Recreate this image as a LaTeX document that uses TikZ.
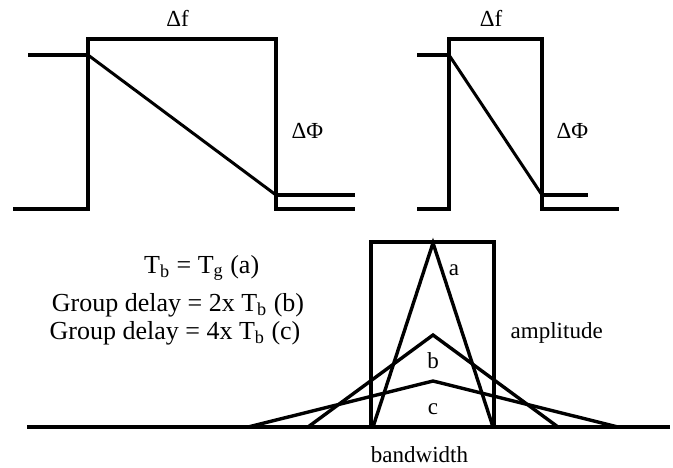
\documentclass[tikz,border=0pt]{standalone}
\usepackage{fontspec}
\setmainfont{Liberation Serif}
\definecolor{ink}{HTML}{000000}
\newcommand{\figfontsize}{\fontsize{13}{16}\selectfont}
\newcommand{\lblfontsize}{\fontsize{11.5}{14}\selectfont}
\tikzset{
  every picture/.style = {font=\figfontsize, line join=miter},
  edge/.style          = {line width=2pt},
  tri/.style           = {line width=1.7pt},
  hair/.style          = {line width=1.5pt},
  lbl/.style           = {font=\lblfontsize, anchor=base, text=ink},
  eqn/.style           = {anchor=base, text=ink},
}

\begin{document}
\begin{tikzpicture}[x=0.5pt, y=0.5pt]
  \useasboundingbox (0,0) rectangle (673,467);
  \def\Ylo{258}\def\Yhi{428}\def\Yin{412}\def\Yout{272}   % levels of the two step plots
  \def\Yb{40}\def\Xc{433}                                 % spectrum base line, centre

  % slow phase slope over the wide band
  \coordinate (A1) at (88,\Yin);
  \coordinate (B1) at (276,\Yout);
  \draw[edge, ink] (13,\Ylo) -- (88,\Ylo) -- (88,\Yhi) -- (276,\Yhi) -- (276,\Ylo) -- (355,\Ylo);
  \draw[edge, ink] (28,\Yin) -- (A1);
  \draw[edge, ink] (B1) -- (355,\Yout);
  \draw[hair, ink] (A1) -- (B1);
  \node[lbl] (df1) at (177.5,440) {Δf};
  \node[lbl] (dp1) at (307.5,329) {ΔΦ};

  % same phase step over a narrower band: steeper slope
  \coordinate (A2) at (449,\Yin);
  \coordinate (B2) at (542,\Yout);
  \draw[edge, ink] (417,\Ylo) -- (449,\Ylo) -- (449,\Yhi) -- (542,\Yhi) -- (542,\Ylo) -- (619,\Ylo);
  \draw[edge, ink] (417,\Yin) -- (A2);
  \draw[edge, ink] (B2) -- (588,\Yout);
  \draw[hair, ink] (A2) -- (B2);
  \node[lbl] (df2) at (491,440) {Δf};
  \node[lbl] (dp2) at (572.5,329) {ΔΦ};

  % spectra: ideal band, then a, b, c spreading out with the delay
  \draw[edge, ink] (27,\Yb) -- (670,\Yb);
  \draw[edge, ink] (371,\Yb) -- (371,225) -- (494,225) -- (494,\Yb);
  \foreach \nm/\ht/\hw in {a/224/60, b/132/125, c/86/185}
    \draw[tri, ink] ({\Xc-\hw},\Yb) -- (\Xc,\ht) coordinate (top\nm) -- ({\Xc+\hw},\Yb);

  \node[lbl] (la)   at (454,192)   {a};
  \node[lbl] (lb)   at (\Xc,99)    {b};
  \node[lbl] (lc)   at (\Xc,53)    {c};
  \node[lbl] (lamp) at (556.7,129) {amplitude};
  \node[lbl] (lbw)  at (419.5,5)   {bandwidth};

  \node[eqn] (eq1) at (201.7,194) {T\textsubscript{b} = T\textsubscript{g} (a)};
  \node[eqn] (eq2) at (178,156)   {Group delay = 2x T\textsubscript{b} (b)};
  \node[eqn] (eq3) at (175,128)   {Group delay = 4x T\textsubscript{b} (c)};
\end{tikzpicture}
\end{document}
